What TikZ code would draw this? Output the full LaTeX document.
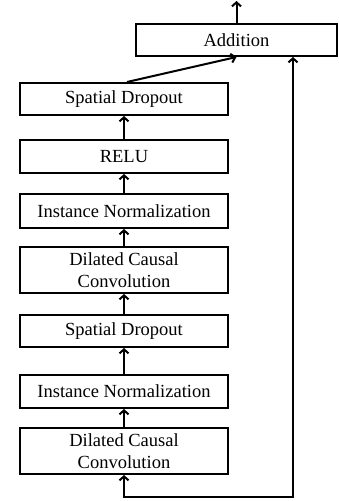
\documentclass[tikz,border=0pt]{standalone}
\usepackage{fontspec}
\setmainfont{Liberation Serif}
\usetikzlibrary{arrows.meta}
\tikzset{
  blk/.style={draw, line width=2pt, minimum width=208pt, inner sep=0pt, align=center, font=\fontsize{18.5}{21.5}\selectfont},
  flow/.style={line width=2pt, -{Straight Barb[length=4pt,width=9pt]}}
}
\begin{document}
\begin{tikzpicture}[x=1pt,y=-1pt]
\useasboundingbox (0,0) rectangle (338,501);

\node[blk, minimum width=201pt, minimum height=32pt] (add) at (236.5,40) {Addition};
\node[blk, minimum height=32pt] (dropA) at (124,99) {Spatial Dropout};
\node[blk, minimum height=33pt] (relu) at (124,156.5) {RELU};
\node[blk, minimum height=34pt] (normA) at (124,211) {Instance Normalization};
\node[blk, minimum height=46pt] (convA) at (124,270) {Dilated Causal\\ Convolution};
\node[blk, minimum height=32pt] (dropB) at (124,331) {Spatial Dropout};
\node[blk, minimum height=33pt] (normB) at (124,391.5) {Instance Normalization};
\node[blk, minimum height=46pt] (convB) at (124,451) {Dilated Causal\\ Convolution};

\coordinate (out) at (add.north |- 0,1);
\coordinate (inL) at (124,497);
\coordinate (inR) at (293,497);

\draw[flow] (convB) -- (normB);
\draw[flow] (normB) -- (dropB);
\draw[flow] (dropB) -- (convA);
\draw[flow] (convA) -- (normA);
\draw[flow] (normA) -- (relu);
\draw[flow] (relu) -- (dropA);
\draw[flow] ([xshift=3pt]dropA.north) -- (add.south);
\draw[flow] (add) -- (out);
\draw[flow, {Straight Barb[length=4pt,width=9pt]}-{Straight Barb[length=4pt,width=9pt]}] (convB.south) -- (inL) -- (inR) -- (add.south -| inR);
\end{tikzpicture}
\end{document}
